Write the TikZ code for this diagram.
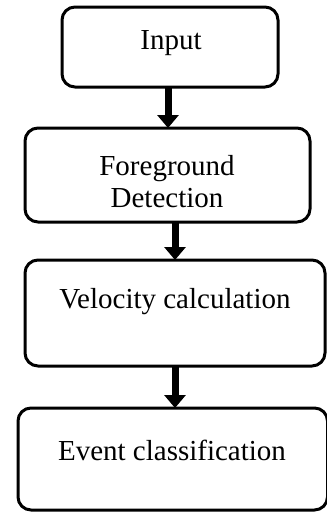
\documentclass[tikz,border=0pt]{standalone}
\usepackage{fontspec}
\setmainfont{Liberation Serif}
\usetikzlibrary{arrows.meta}
\begin{document}
\begin{tikzpicture}[x=1pt,y=-1pt,
  box/.style={draw=black,line width=3pt,rounded corners=13pt,
    rectangle,inner sep=0pt,outer sep=0pt},
  lbl/.style={font=\fontsize{29}{34}\selectfont,align=center,inner sep=0pt},
  arr/.style={line width=7pt,-{Triangle[width=21pt,length=13pt]}}]
\useasboundingbox (0,0) rectangle (327,512);
% process boxes
\node[box,minimum width=216pt,minimum height=80pt]    (b1) at (170,47) {};
\node[box,minimum width=285pt,minimum height=94pt]    (b2) at (167.5,175) {};
\node[box,minimum width=300pt,minimum height=106pt]   (b3) at (175,313) {};
\node[box,minimum width=309.5pt,minimum height=102pt] (b4) at (172.75,459) {};
% labels
\node[lbl] (t1) at (171,43) {Input};
\node[lbl] (t2) at (167,182) {Foreground\\[-2pt]Detection};
\node[lbl] (t3) at (175,302) {Velocity calculation};
\node[lbl] (t4) at (172,450) {Event classification};
% connectors
\draw[arr] ([xshift=-2pt]b1.south) -- ([xshift=-2pt]b1.south |- b2.north);
\draw[arr] ([xshift=7.5pt]b2.south) -- ([xshift=7.5pt]b2.south |- b3.north);
\draw[arr] (b3.south) -- (b3.south |- b4.north);
\end{tikzpicture}
\end{document}
